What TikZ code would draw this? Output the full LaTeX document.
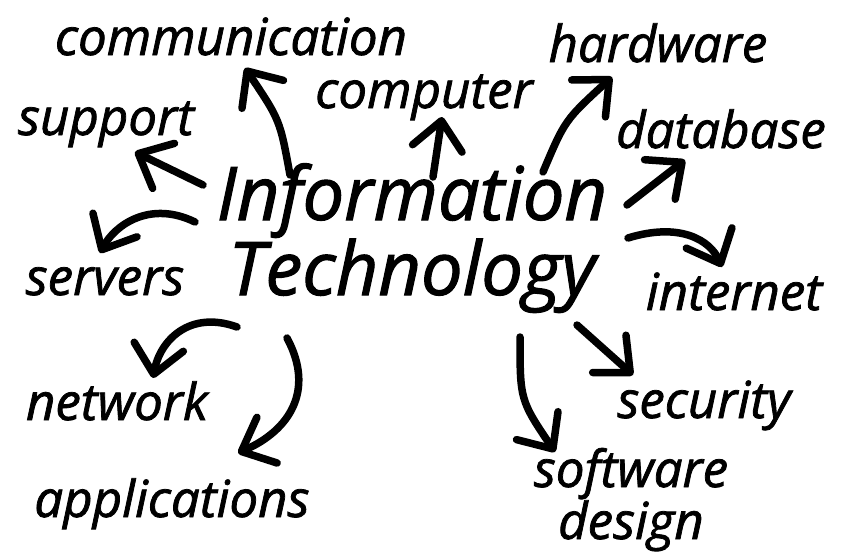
\documentclass[tikz,border=0pt]{standalone}
\usepackage{fontspec}
\setmainfont{Open Sans}[ItalicFeatures={FakeBold=1.5}]
\usetikzlibrary{arrows.meta}
\begin{document}
\begin{tikzpicture}[x=1pt, y=-1pt,
        word/.style={anchor=base, inner sep=0pt, align=center, font={\fontsize{51}{54}\selectfont\itshape}},
        bigword/.style={anchor=base, inner sep=0pt, align=center, font={\fontsize{74}{57}\selectfont\itshape}},
        arr/.style={line width=7.5pt, line cap=round, line join=round,
            -{Straight Barb[length=28pt, width=50pt, round]}}]
            \useasboundingbox (0, 0) rectangle (841, 557);
            \node[bigword] (info) at (412, 295) {Information\\Technology};
            \node[word] (comm) at (231, 55) {communication};
            \node[word] (comp) at (424, 108) {computer};
            \node[word] (hard) at (658, 62) {hardware};
            \node[word] (supp) at (106, 135) {support};
            \node[word] (dbase) at (721, 148) {database};
            \node[word] (serv) at (105, 295) {servers};
            \node[word] (inet) at (734, 310) {internet};
            \node[word] (netw) at (117, 420) {network};
            \node[word] (secu) at (704, 418) {security};
            \node[word] (appl) at (172, 517) {applications};
            \node[word, font={\fontsize{51}{49}\selectfont\itshape}] (soft) at (631, 539) {software\\design};
            \coordinate (s-comm) at (290, 175);
            \coordinate (e-comm) at (245, 68);
            \coordinate (s-supp) at (203, 185);
            \coordinate (e-supp) at (135, 152);
            \coordinate (s-serv) at (195, 222);
            \coordinate (e-serv) at (100, 253);
            \coordinate (s-comp) at (433, 177);
            \coordinate (e-comp) at (442, 117);
            \coordinate (s-hard) at (543, 172);
            \coordinate (e-hard) at (612, 77);
            \coordinate (s-dbase) at (627, 205);
            \coordinate (e-dbase) at (685, 160);
            \coordinate (s-inet) at (628, 238);
            \coordinate (e-inet) at (722, 267);
            \coordinate (s-secu) at (577, 325);
            \coordinate (e-secu) at (633, 375);
            \coordinate (s-soft) at (520, 337);
            \coordinate (e-soft) at (555, 452);
            \coordinate (s-netw) at (237, 327);
            \coordinate (e-netw) at (153, 378);
            \coordinate (s-appl) at (287, 338);
            \coordinate (e-appl) at (238, 453);
            \draw[arr] (s-comm) .. controls (280, 120) .. (e-comm);
            \draw[arr] (s-supp) -- (e-supp);
            \draw[arr] (s-serv) .. controls (150, 200) and (115, 225) .. (e-serv);
            \draw[arr] (s-comp) -- (e-comp);
            \draw[arr] (s-hard) .. controls (565, 120) .. (e-hard);
            \draw[arr] (s-dbase) -- (e-dbase);
            \draw[arr] (s-inet) .. controls (680, 222) and (710, 240) .. (e-inet);
            \draw[arr] (s-secu) -- (e-secu);
            \draw[arr] (s-soft) .. controls (520, 400) .. (e-soft);
            \draw[arr] (s-netw) .. controls (190, 310) and (160, 340) .. (e-netw);
            \draw[arr] (s-appl) .. controls (315, 390) and (290, 430) .. (e-appl);
        \end{tikzpicture}
\end{document}
